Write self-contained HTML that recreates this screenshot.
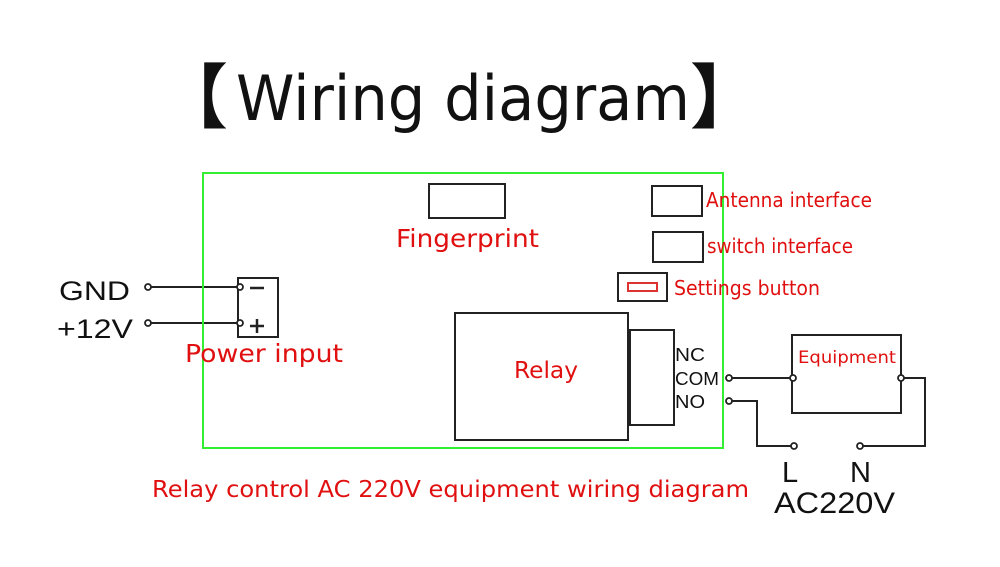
<!DOCTYPE html>
<html><head><meta charset="utf-8"><style>html,body{margin:0;padding:0;background:#fff}svg{display:block}
.b{font-family:"Liberation Sans",Arial,sans-serif}
.r{font-family:"DejaVu Sans","Liberation Sans",sans-serif}
.t{font-family:"DejaVu Sans","Noto Sans CJK SC",sans-serif}
.k{font-family:"Noto Sans CJK SC",sans-serif;font-weight:bold}
</style></head>
<body>
<svg width="1000" height="567" viewBox="0 0 1000 567" xmlns="http://www.w3.org/2000/svg">
<text x="158" y="122" font-size="70" fill="#111" class="k">【</text>
<text x="236" y="120" font-size="62" fill="#111" class="t" textLength="454" lengthAdjust="spacingAndGlyphs">Wiring diagram</text>
<text x="690" y="122" font-size="70" fill="#111" class="k">】</text>
<g fill="none" stroke="#222" stroke-width="2">
<rect x="429" y="184" width="76" height="34"/>
<rect x="652" y="186" width="50" height="30"/>
<rect x="653" y="232" width="50" height="30"/>
<rect x="618" y="273" width="49" height="28"/>
<rect x="238" y="278" width="40" height="59"/>
<rect x="455" y="313" width="173" height="127"/>
<rect x="630" y="330" width="44" height="95"/>
<rect x="792" y="335" width="109" height="78"/>
<polyline points="148,287 240,287"/>
<polyline points="148,323 240,323"/>
<polyline points="729,378 793,378"/>
<polyline points="901,378 925,378 925,446 860,446"/>
<polyline points="729,401 757,401 757,446 794,446"/>
<line x1="250" y1="288" x2="264" y2="288" stroke-width="2.5"/>
<line x1="250" y1="326" x2="264" y2="326" stroke-width="2.5"/>
<line x1="257" y1="319" x2="257" y2="333" stroke-width="2.5"/>
</g>
<rect x="203" y="173" width="520" height="275" fill="none" stroke="#3e3" stroke-width="2"/>
<rect x="628" y="283" width="29" height="8" fill="none" stroke="#d33" stroke-width="2"/>
<g fill="#fff" stroke="#222" stroke-width="1.8">
<circle cx="148" cy="287" r="3"/><circle cx="148" cy="323" r="3"/>
<circle cx="240" cy="287" r="3"/><circle cx="240" cy="323" r="3"/>
<circle cx="729" cy="378" r="3"/><circle cx="729" cy="401" r="3"/>
<circle cx="793" cy="378" r="3"/><circle cx="901" cy="378" r="3"/>
<circle cx="794" cy="446" r="3"/><circle cx="860" cy="446" r="3"/>
</g>
<g fill="#111" class="b">
<text x="59" y="300" font-size="27" textLength="71" lengthAdjust="spacingAndGlyphs">GND</text>
<text x="57" y="338" font-size="27" textLength="76" lengthAdjust="spacingAndGlyphs">+12V</text>
<text x="675" y="361" font-size="18" textLength="30" lengthAdjust="spacingAndGlyphs">NC</text>
<text x="675" y="385" font-size="18" textLength="44" lengthAdjust="spacingAndGlyphs">COM</text>
<text x="675" y="408" font-size="18" textLength="30" lengthAdjust="spacingAndGlyphs">NO</text>
<text x="782" y="482" font-size="29">L</text>
<text x="850" y="482" font-size="29">N</text>
<text x="774" y="513" font-size="30" textLength="121" lengthAdjust="spacingAndGlyphs">AC220V</text>
</g>
<g fill="#e01010" class="r">
<text x="396" y="247" font-size="25" textLength="143" lengthAdjust="spacingAndGlyphs">Fingerprint</text>
<text x="706" y="207" font-size="20" textLength="166" lengthAdjust="spacingAndGlyphs">Antenna interface</text>
<text x="707" y="253" font-size="20" textLength="146" lengthAdjust="spacingAndGlyphs">switch interface</text>
<text x="674" y="295" font-size="20" textLength="146" lengthAdjust="spacingAndGlyphs">Settings button</text>
<text x="185" y="362" font-size="25" textLength="158" lengthAdjust="spacingAndGlyphs">Power input</text>
<text x="514" y="378" font-size="23" textLength="64" lengthAdjust="spacingAndGlyphs">Relay</text>
<text x="798" y="363" font-size="17" textLength="98" lengthAdjust="spacingAndGlyphs">Equipment</text>
<text x="152" y="497" font-size="23" textLength="597" lengthAdjust="spacingAndGlyphs">Relay control AC 220V equipment wiring diagram</text>
</g>
</svg>
</body></html>
